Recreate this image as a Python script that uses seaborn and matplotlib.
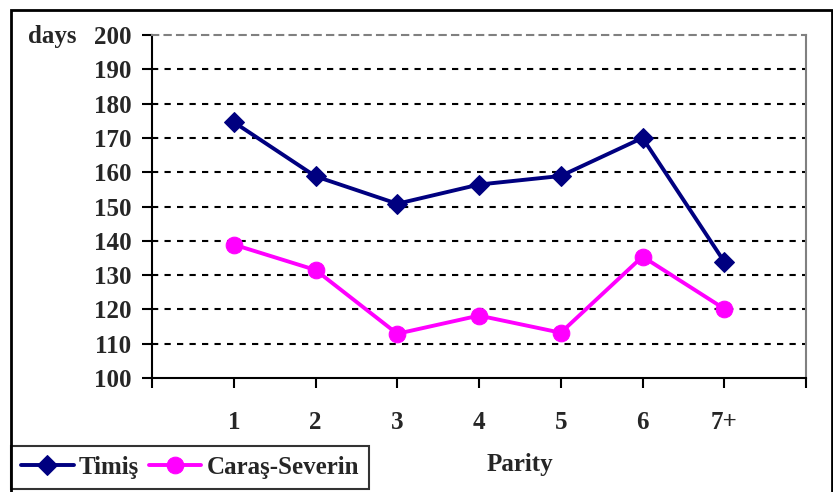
import pandas as pd
import numpy as np
import seaborn as sns
import matplotlib.pyplot as plt
from matplotlib.patches import Rectangle

parity = ['1', '2', '3', '4', '5', '6', '7+']
timis = [174.6, 158.8, 150.8, 156.4, 158.9, 170.0, 133.9]
caras = [138.9, 131.5, 112.9, 118.2, 113.2, 135.4, 120.2]

df = pd.DataFrame({'pos': np.arange(len(parity)), 'Timiş': timis, 'Caraş-Severin': caras})

sns.set_style('white')
plt.rcParams['font.family'] = ['Liberation Serif', 'DejaVu Serif']
plt.rcParams['font.weight'] = 'bold'
fs = 18

fig = plt.figure(figsize=(8.33, 4.92), dpi=100)
ax = fig.add_axes([152/833, 1-378/492, 654/833, 343/492])

sns.lineplot(x='pos', y='Timiş', data=df, ax=ax, color='#000080', marker='D',
             markersize=10.5, linewidth=2.8, markeredgecolor='#000080', label='Timiş')
sns.lineplot(x='pos', y='Caraş-Severin', data=df, ax=ax, color='#FF00FF', marker='o',
             markersize=12, linewidth=2.8, markeredgecolor='#FF00FF', label='Caraş-Severin')

ax.set_xlim(-1, 7)
ax.set_ylim(100, 200)
ax.set_xticks(np.arange(-1, 8))
ax.set_xticklabels([''] + parity + [''])
ax.set_yticks(np.arange(100, 201, 10))
ax.tick_params(axis='both', labelsize=fs, length=7, width=1.5, direction='out', color='black',
               left=True, bottom=True)
ax.tick_params(axis='y', pad=8)
ax.tick_params(axis='x', pad=17)
for lab in ax.get_xticklabels() + ax.get_yticklabels():
    lab.set_fontweight('bold')

for y in range(110, 200, 10):
    ax.axhline(y, color='black', linestyle=(0, (3, 3)), linewidth=1.5, zorder=0)

ax.spines['left'].set_color('black')
ax.spines['left'].set_linewidth(1.5)
ax.spines['bottom'].set_color('black')
ax.spines['bottom'].set_linewidth(1.5)
ax.spines['top'].set_color('#808080')
ax.spines['top'].set_linestyle((0, (3, 3)))
ax.spines['top'].set_linewidth(1.5)
ax.spines['right'].set_color('#808080')
ax.spines['right'].set_linewidth(1.5)

ax.set_xlabel('')
ax.set_ylabel('')
fig.text(28/833, 1-37/492, 'days', fontsize=fs, fontweight='bold', va='center', ha='left')
fig.text(520/833, 1-465/492, 'Parity', fontsize=fs, fontweight='bold', va='center', ha='center')

leg = ax.legend(loc='upper left', bbox_to_anchor=(11/833, 1-446/492),
                bbox_transform=fig.transFigure, ncol=2, frameon=True, fancybox=False,
                edgecolor='black', fontsize=fs, handlelength=2.1, columnspacing=0.4,
                handletextpad=0.2, borderpad=0.4, borderaxespad=0)
leg.get_frame().set_linewidth(1.5)
for t in leg.get_texts():
    t.set_fontweight('bold')

fig.patches.append(Rectangle((11/833, -0.05), 821/833, 1.05-10/492, transform=fig.transFigure,
                             fill=False, edgecolor='black', linewidth=2))

plt.savefig('out.png', dpi=100)
